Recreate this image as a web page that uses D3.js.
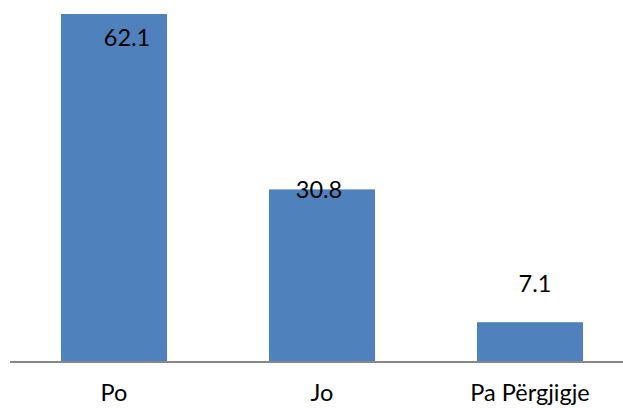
<!DOCTYPE html>
<html>
<head>
<meta charset="utf-8">
<script src="https://cdn.jsdelivr.net/npm/d3@7"></script>
<style>
  html, body { margin: 0; padding: 0; background: #fff; }
  svg { display: block; }
  text { font-family: Lato, "Open Sans", sans-serif; fill: #000; }
</style>
</head>
<body>
<svg id="chart" width="623" height="408"></svg>
<script>
const categories = ["Po", "Jo", "Pa Përgjigje"];
const values = [62.1, 30.8, 7.1];
const valueLabels = ["62.1", "30.8", "7.1"];

// layout of value labels (offsets from bar top-center), as in the reference
const labelDx = [13, -3, 5];
const labelDy = [32, 9, -30];

const W = 623, H = 408;
const FS = 23.5;
const svg = d3.select("#chart");

const x = d3.scaleBand()
  .domain(categories)
  .range([10, 634])
  .paddingInner(0.49)
  .paddingOuter(0.245);

const y = d3.scaleLinear()
  .domain([0, 62.1])
  .range([362, 14]);

svg.selectAll("rect.bar")
  .data(values)
  .join("rect")
  .attr("class", "bar")
  .attr("x", (d, i) => x(categories[i]))
  .attr("width", x.bandwidth())
  .attr("y", d => y(d))
  .attr("height", d => y(0) - y(d))
  .attr("fill", "#4F81BD");

// axis
const xAxis = d3.axisBottom(x).tickSize(0).tickPadding(22);
const gx = svg.append("g")
  .attr("transform", `translate(0,${y(0)})`)
  .call(xAxis);
gx.select(".domain").attr("stroke", "#878787").attr("stroke-width", 2).attr("d", "M10,0H623");
gx.selectAll("text")
  .attr("font-size", FS)
  .attr("fill", "#000")
  .attr("font-family", "Lato, 'Open Sans', sans-serif");

svg.selectAll("text.val")
  .data(values)
  .join("text")
  .attr("class", "val")
  .attr("x", (d, i) => x(categories[i]) + x.bandwidth() / 2 + labelDx[i])
  .attr("y", (d, i) => y(d) + labelDy[i])
  .attr("text-anchor", "middle")
  .attr("font-size", FS)
  .text((d, i) => valueLabels[i]);
</script>
</body>
</html>
